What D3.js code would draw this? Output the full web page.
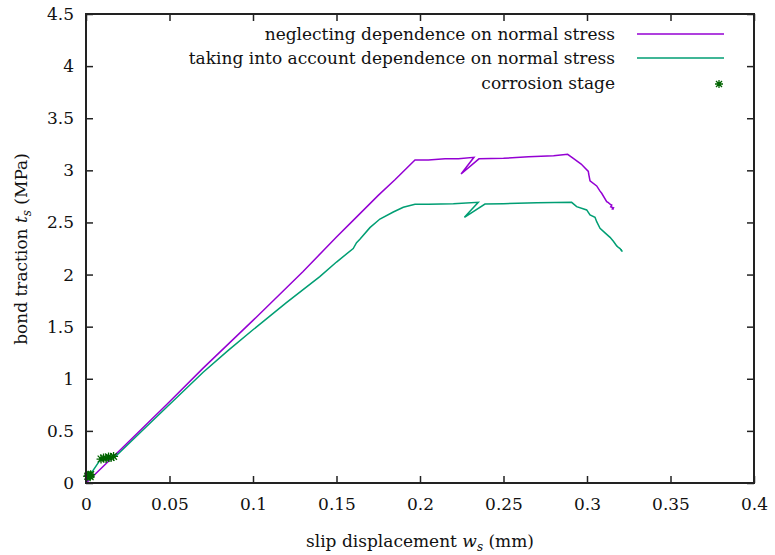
<!DOCTYPE html>
<html><head><meta charset="utf-8">
<script src="https://cdn.jsdelivr.net/npm/d3@7"></script>
<style>body{margin:0;background:#fff}svg{display:block}text{font-family:"DejaVu Serif","Liberation Serif",serif;fill:#111}</style>
</head><body><svg id="c" width="775" height="555"></svg>
<script>
const xTicks=[0,0.05,0.1,0.15,0.2,0.25,0.3,0.35,0.4];
const yTicks=[0,0.5,1,1.5,2,2.5,3,3.5,4,4.5];
const seriesNames=["neglecting dependence on normal stress","taking into account dependence on normal stress","corrosion stage"];
const neglectX=[0,0.02,0.05,0.07,0.1,0.13,0.15,0.16,0.175,0.185,0.197,0.205,0.215,0.223,0.2323,0.2246,0.2353,0.25,0.265,0.28,0.2884,0.2918,0.2965,0.3008,0.301,0.3018,0.3058,0.3078,0.3088,0.3118,0.3128,0.3138,0.3148,0.3142,0.3158,0.3152,0.316];
const neglectY=[0,0.31,0.78,1.1,1.56,2.03,2.36,2.52,2.76,2.91,3.10,3.10,3.11,3.11,3.125,2.965,3.11,3.115,3.13,3.14,3.154,3.115,3.06,2.99,2.965,2.90,2.85,2.80,2.78,2.70,2.69,2.675,2.667,2.65,2.64,2.63,2.626];
const accountX=[0,0.002,0.0084,0.0174,0.04,0.07,0.085,0.1,0.12,0.14,0.15,0.16,0.162,0.164,0.17,0.176,0.184,0.19,0.197,0.205,0.22,0.2349,0.2266,0.2389,0.25,0.27,0.2908,0.2938,0.2998,0.3018,0.3048,0.3058,0.3078,0.3108,0.3138,0.3158,0.3178,0.3188,0.3198,0.3208,0.3204,0.3212];
const accountY=[0.07,0.067,0.22,0.252,0.6,1.06,1.27,1.47,1.73,1.98,2.12,2.25,2.306,2.338,2.45,2.533,2.60,2.645,2.674,2.675,2.68,2.693,2.549,2.677,2.68,2.69,2.693,2.652,2.62,2.572,2.549,2.507,2.444,2.40,2.357,2.32,2.275,2.26,2.25,2.226,2.24,2.22];
const corrX=[0.001,0.0015,0.002,0.0025,0.0028,0.009,0.0105,0.012,0.0135,0.015,0.0165];
const corrY=[0.065,0.075,0.07,0.06,0.08,0.23,0.24,0.235,0.25,0.245,0.255];

const svg=d3.select("#c");
const L=86,R=754,T=14,B=483;
const x=d3.scaleLinear().domain([0,0.4]).range([L,R]);
const y=d3.scaleLinear().domain([0,4.5]).range([B,T]);
const colors=["#9400d3","#009e73","#006400"];
const fmt=d=>String(d);
const FS="17px";

const tl=7;
svg.append("g").attr("transform",`translate(0,${B})`).call(d3.axisBottom(x).tickValues(xTicks).tickFormat(fmt).tickSize(-tl).tickPadding(15));
svg.append("g").attr("transform",`translate(0,${T})`).call(d3.axisTop(x).tickValues(xTicks).tickFormat("").tickSize(-tl));
svg.append("g").attr("transform",`translate(${L},0)`).call(d3.axisLeft(y).tickValues(yTicks).tickFormat(fmt).tickSize(-tl).tickPadding(12));
svg.append("g").attr("transform",`translate(${R},0)`).call(d3.axisRight(y).tickValues(yTicks).tickFormat("").tickSize(-tl));
svg.selectAll(".domain").remove();
svg.selectAll(".tick line").attr("stroke","#222").attr("stroke-width",1.5);
svg.selectAll(".tick text").attr("font-family",null).style("font-family","'DejaVu Serif', serif").style("font-size",FS).attr("fill","#111");

const line=d3.line().x(d=>x(d[0])).y(d=>y(d[1]));
svg.append("path").datum(accountX.map((v,i)=>[v,accountY[i]])).attr("d",line).attr("fill","none").attr("stroke",colors[1]).attr("stroke-width",1.5);
svg.append("path").datum(neglectX.map((v,i)=>[v,neglectY[i]])).attr("d",line).attr("fill","none").attr("stroke",colors[0]).attr("stroke-width",1.5);

const star=(sel,cx,cy,r)=>{
  const p=`M${cx-r},${cy}L${cx+r},${cy}M${cx},${cy-r}L${cx},${cy+r}M${cx-r*0.75},${cy-r*0.75}L${cx+r*0.75},${cy+r*0.75}M${cx-r*0.75},${cy+r*0.75}L${cx+r*0.75},${cy-r*0.75}`;
  sel.append("path").attr("d",p).attr("stroke",colors[2]).attr("stroke-width",1.3).attr("fill","none");
};
const mg=svg.append("g");
corrX.forEach((v,i)=>star(mg,x(v),y(corrY[i]),4.5));

svg.append("rect").attr("x",L).attr("y",T).attr("width",R-L).attr("height",B-T).attr("fill","none").attr("stroke","#222").attr("stroke-width",2);

const legY=[34,58,83];
seriesNames.forEach((n,i)=>{
  svg.append("text").attr("x",615).attr("y",legY[i]).attr("dy","0.35em").attr("text-anchor","end").style("font-size",FS).text(n);
  if(i<2) svg.append("line").attr("x1",637).attr("x2",724).attr("y1",legY[i]).attr("y2",legY[i]).attr("stroke",colors[i]).attr("stroke-width",1.5);
  else star(svg,719,legY[i]+1,4);
});

const xl=svg.append("text").attr("x",420).attr("y",547).attr("text-anchor","middle").style("font-size",FS);
xl.append("tspan").text("slip displacement ");
xl.append("tspan").style("font-style","italic").text("w");
xl.append("tspan").attr("dy",4).style("font-size","12px").style("font-style","italic").text("s");
xl.append("tspan").attr("dy",-4).text(" (mm)");
const yl=svg.append("text").attr("transform","translate(27,249) rotate(-90)").attr("text-anchor","middle").style("font-size",FS);
yl.append("tspan").text("bond traction ");
yl.append("tspan").style("font-style","italic").text("t");
yl.append("tspan").attr("dy",4).style("font-size","12px").style("font-style","italic").text("s");
yl.append("tspan").attr("dy",-4).text(" (MPa)");
</script></body></html>
